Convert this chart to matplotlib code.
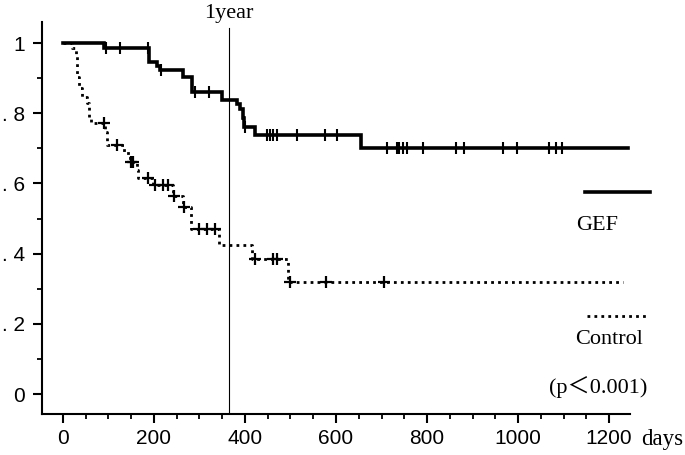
import numpy as np
import matplotlib
matplotlib.use("Agg")
import matplotlib.pyplot as plt
import matplotlib.font_manager as fm
from matplotlib.ticker import MultipleLocator, FixedLocator, FixedFormatter

# ---------------- data ----------------
gef_times = [0, 90, 189, 206, 213, 264, 283, 350, 382, 388, 395, 398, 422, 655, 1242]
gef_surv = [1.0, 0.987, 0.947, 0.935, 0.923, 0.904, 0.861, 0.838, 0.826, 0.813, 0.787, 0.762, 0.738, 0.70, 0.70]
gef_censor = [94, 125, 187, 215, 290, 321, 400, 448, 455, 462, 470, 514, 576, 602,
              712, 734, 738, 747, 756, 791, 864, 881, 967, 998, 1068, 1084, 1097]

ctrl_times = [0, 20, 28, 30, 31, 35, 41, 52, 57, 62, 92, 96, 134, 147, 162, 165,
              198, 242, 263, 281, 343, 416, 495, 1231]
ctrl_surv = [1.0, 0.987, 0.966, 0.943, 0.904, 0.871, 0.847, 0.829, 0.79, 0.771, 0.747,
             0.709, 0.687, 0.662, 0.638, 0.615, 0.595, 0.564, 0.534, 0.47, 0.424, 0.384,
             0.32, 0.32]
ctrl_censor = [90, 118, 150, 155, 188, 202, 220, 231, 245, 266, 299, 317, 335,
               422, 462, 470, 499, 578, 706]

x_ticks = [0, 200, 400, 600, 800, 1000, 1200]
y_ticks = [0, 0.2, 0.4, 0.6, 0.8, 1.0]
y_tick_labels = ["0", ". 2", ". 4", ". 6", ". 8", "1"]
one_year = 365


def step_value(times, surv, t):
    idx = np.searchsorted(times, t, side="right") - 1
    return np.asarray(surv)[idx]


avail = {f.name for f in fm.fontManager.ttflist}
if "Liberation Sans Narrow" in avail:
    tick_font, tick_size = "Liberation Sans Narrow", 16.5
else:
    tick_font, tick_size = "Liberation Sans", 15
serif = ["Liberation Serif", "Noto Sans CJK JP", "DejaVu Sans"]

fig = plt.figure(figsize=(6.85, 4.55), dpi=100)
ax = fig.add_axes([0.0613, 0.0901, 0.8584, 0.8615])

dots = (0, (1.0, 1.5))

# control (dotted)
ax.step(ctrl_times, ctrl_surv, where="post", color="black", lw=2.0,
        linestyle=dots, dash_capstyle="butt", zorder=2)
ax.plot(ctrl_censor, step_value(ctrl_times, ctrl_surv, ctrl_censor), linestyle="none",
        marker="+", markersize=8, markeredgewidth=1.6, color="black", zorder=3)

# GEF (solid)
ax.step(gef_times, gef_surv, where="post", color="black", lw=2.6, zorder=4,
        solid_joinstyle="miter")
ax.plot(gef_censor, step_value(gef_times, gef_surv, gef_censor), linestyle="none",
        marker="|", markersize=8.5, markeredgewidth=1.5, color="black", zorder=5)

# 1 year line
ax.axvline(one_year, ymin=0, ymax=0.985, color="black", lw=0.8, zorder=1)
ax.text(one_year, 1.083, "1year", ha="center", va="center", fontsize=16,
        family=serif)

# legend-like annotations
ax.plot([1147, 1290], [0.576, 0.576], color="black", lw=2.6, clip_on=False)
ax.text(1174, 0.481, "GEF", ha="center", va="center", fontsize=16, family=serif)
ax.plot([1152, 1284], [0.222, 0.222], color="black", lw=2.0,
        linestyle=dots, dash_capstyle="butt", clip_on=False)
ax.text(1200, 0.154, "Control", ha="center", va="center", fontsize=16, family=serif)
ax.text(1176, 0.02, "(p＜0.001)", ha="center", va="center", fontsize=16, family=serif)
ax.text(1271, -0.13, "days", ha="left", va="center", fontsize=16.5, family=serif)

ax.set_xlim(-46, 1246)
ax.set_ylim(-0.057, 1.06)

for s in ["top", "right"]:
    ax.spines[s].set_visible(False)
for s in ["left", "bottom"]:
    ax.spines[s].set_linewidth(1.5)

ax.xaxis.set_major_locator(FixedLocator(x_ticks))
ax.xaxis.set_minor_locator(MultipleLocator(50))
ax.yaxis.set_major_locator(FixedLocator(y_ticks))
ax.yaxis.set_major_formatter(FixedFormatter(y_tick_labels))
ax.yaxis.set_minor_locator(MultipleLocator(0.1))
ax.tick_params(which="major", length=6.5, width=1.5, direction="out")
ax.tick_params(which="minor", length=3.6, width=1.3, direction="out")
ax.tick_params(axis="x", which="major", pad=4)
ax.tick_params(axis="y", which="major", pad=6)
for lab in ax.get_xticklabels() + ax.get_yticklabels():
    lab.set_fontfamily(tick_font)
    lab.set_fontsize(tick_size)

fig.savefig("out.png", dpi=100)
